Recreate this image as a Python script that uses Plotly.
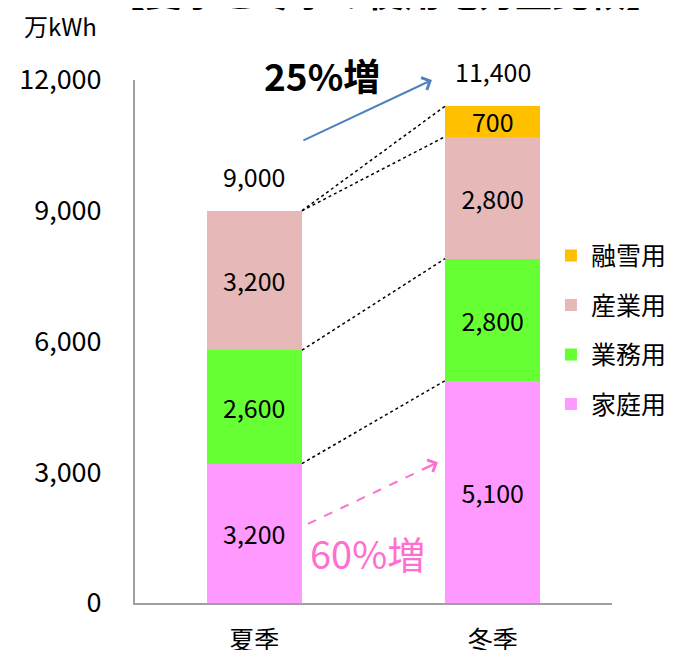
import plotly.graph_objects as go

categories = ["夏季", "冬季"]
series_names = ["家庭用", "業務用", "産業用", "融雪用"]
household = [3200, 5100]
business = [2600, 2800]
industry = [3200, 2800]
snow = [0, 700]
colors = ["#FF99FF", "#66FF33", "#E6B9B8", "#FFC000"]
y_ticks = [0, 3000, 6000, 9000, 12000]

series_values = [household, business, industry, snow]
totals = [sum(v[i] for v in series_values) for i in range(len(categories))]

JP = "Noto Sans CJK JP"
fig = go.Figure()
for i, (name, vals, col) in enumerate(zip(series_names, series_values, colors)):
    fig.add_trace(go.Bar(
        x=categories, y=vals, name=name, marker=dict(color=col, line=dict(width=0)),
        width=0.4, legendgroup=name, legendrank=len(series_names) - i,
        text=[f"{v:,}" if v else "" for v in vals],
        textposition="inside", insidetextanchor="middle", constraintext="none",
        textfont=dict(size=25, color="black", family=JP),
        hoverinfo="skip",
    ))

# series connector lines (cumulative tops)
cum = [[sum(series_values[k][c] for k in range(j + 1)) for c in range(2)] for j in range(4)]
for j in range(4):
    fig.add_shape(type="line", xref="x", yref="y", x0=0.2, x1=0.8,
                  y0=cum[j][0], y1=cum[j][1],
                  line=dict(color="black", width=1.5, dash="dot"))

# totals
for c, t in zip(categories, totals):
    fig.add_annotation(x=c, y=t, text=f"{t:,}", showarrow=False, yshift=35,
                       font=dict(size=25, color="black", family=JP))

# blue arrow (25%)
fig.add_annotation(x=0.745, y=12000, ax=0.2, ay=10600, xref="x", yref="y",
                   axref="x", ayref="y", showarrow=True, arrowhead=4,
                   arrowsize=1.3, arrowwidth=2, arrowcolor="#4F81BD", text="")
fig.add_annotation(x=0.285, y=11800, yshift=14, xref="x", yref="y", text="<b>25%増</b>",
                   showarrow=False, font=dict(size=37, color="black", family=JP))

# pink dashed arrow (60%)
fig.add_shape(type="line", xref="x", yref="y", x0=0.225, y0=1815, x1=0.74, y1=3150,
              line=dict(color="#FF6FCF", width=2, dash="dash"))
fig.add_annotation(x=0.77, y=3230, ax=0.70, ay=3050, xref="x", yref="y",
                   axref="x", ayref="y", showarrow=True, arrowhead=4,
                   arrowsize=1.3, arrowwidth=2, arrowcolor="#FF6FCF", text="")
fig.add_annotation(x=0.475, y=1150, xref="x", yref="y", text="60%増",
                   showarrow=False, font=dict(size=38, color="#FF6FCF", family=JP))

# unit label and (cut-off) title
fig.add_annotation(xref="paper", yref="paper", x=-0.237, y=1.105, xanchor="left",
                   yanchor="middle", text="万kWh", showarrow=False,
                   font=dict(size=24, color="black", family=JP))
fig.add_annotation(xref="paper", yref="paper", x=0.525, y=1.170, xanchor="center",
                   yanchor="middle", text="<b>【夏季と冬季の使用電力量比較】</b>", showarrow=False,
                   font=dict(size=37, color="black", family=JP))

fig.update_layout(
    barmode="stack", width=675, height=650,
    margin=dict(l=127, r=71, t=72, b=55, autoexpand=False),
    plot_bgcolor="white", paper_bgcolor="white",
    font=dict(family=JP, color="black"),
    showlegend=True,
    legend=dict(x=0.872, y=0.708, xanchor="left", yanchor="top", traceorder="grouped",
                tracegroupgap=14, font=dict(size=25, family=JP), bgcolor="rgba(0,0,0,0)"),
    xaxis=dict(showline=True, linecolor="#A0A0A0", linewidth=2, ticks="", automargin=False,
               tickfont=dict(size=25, family=JP), showgrid=False, range=[-0.5, 1.5],
               ticklabelstandoff=14),
    yaxis=dict(range=[0, 12000], tickvals=y_ticks, ticktext=[f"{v:,}" for v in y_ticks],
               showline=True, linecolor="#A0A0A0", linewidth=2, showgrid=False, zeroline=False,
               automargin=False,
               tickfont=dict(size=27, family=JP), ticks="", ticklabelstandoff=26),
)
fig.write_html("out.html")
